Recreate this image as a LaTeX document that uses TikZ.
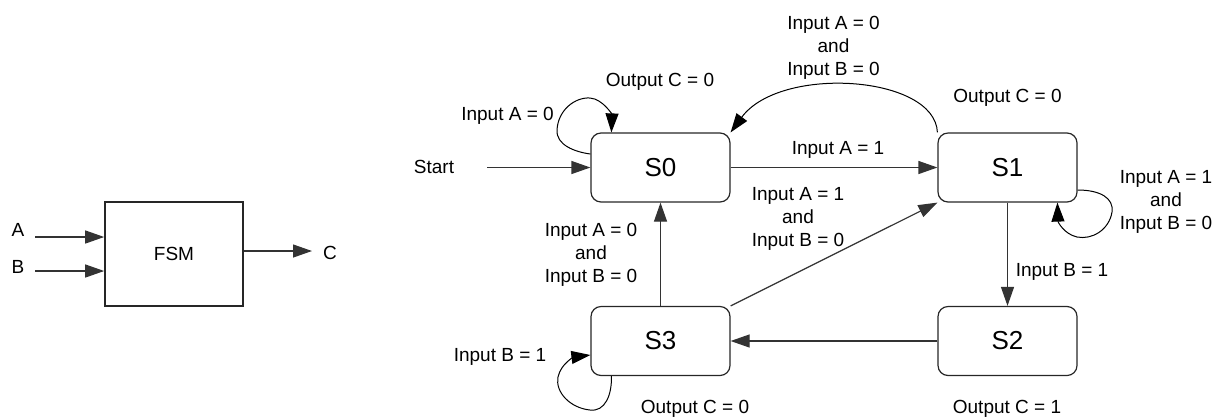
\documentclass[tikz,border=0pt]{standalone}
\usepackage{fontspec}
\setmainfont{Liberation Sans}
\usetikzlibrary{arrows.meta,calc}
\begin{document}
\begin{tikzpicture}[x=0.5pt,y=-0.5pt,
  state/.style={draw=black!85, line width=0.6pt, rounded corners=5pt, minimum width=69.5pt, minimum height=34.5pt, inner sep=0pt, font=\fontsize{13}{15}\selectfont},
  blockbox/.style={draw=black!85, line width=0.8pt, minimum width=69pt, minimum height=52pt, inner sep=0pt, font=\fontsize{9.5}{11.5}\selectfont},
  lbl/.style={font=\fontsize{9.5}{11.5}\selectfont, align=center, inner sep=0pt},
  tip/.style={-{Triangle[length=9.5pt,width=6.5pt]}},
  conn/.style={draw=black!80, line width=0.6pt, tip},
  curv/.style={draw=black, line width=0.5pt, tip}]

\useasboundingbox (0,0) rectangle (1219,419);

% ---- FSM block ----
\node[blockbox] (fsm) at (174,254) {FSM};
\node[lbl] (la) at (18,230) {A};
\node[lbl] (lb) at (18,267) {B};
\node[lbl] (lc) at (330,253) {C};
\coordinate (ain) at (35,237);
\coordinate (bin) at (35,271);
\coordinate (cout) at (312,251);
\draw[conn] (ain) -- (fsm.west |- ain);
\draw[conn] (bin) -- (fsm.west |- bin);
\draw[conn] (fsm.east |- cout) -- (cout);

% ---- states ----
\node[state] (s0) at (660.5,167.5) {S0};
\node[state] (s1) at (1007.5,167.5) {S1};
\node[state] (s2) at (1007.5,341) {S2};
\node[state] (s3) at (660.5,341) {S3};

% ---- start ----
\node[lbl] (start) at (434,167) {Start};
\coordinate (st) at (487,167.5);
\draw[conn] (st) -- (s0.west);

% ---- transitions ----
\draw[conn] (s0.east) -- (s1.west);
\draw[conn] (s3.north) -- (s0.south);
\draw[conn] (s3.north east) -- (s1.south west);
\draw[conn] (s1.south) -- (s2.north);
\draw[conn] (s2.west) -- (s3.east);

\draw[curv] (s1.north west) .. controls (935,75) and (780,65) .. (s0.north east);

% S0 self loop
\draw[curv] ($(s0.west)+(0,-13.5)$) .. controls (575,152) and (556,145) .. (557,130)
  .. controls (558,110) and (575,97) .. (590,98)
  .. controls (603,99) and (612,115) .. ($(s0.north west)+(21,0)$);

% S1 self loop
\draw[curv] ($(s1.east)+(0,22.5)$) .. controls (1100,190) and (1114,198) .. (1112,212)
  .. controls (1109,230) and (1092,240) .. (1077,237)
  .. controls (1064,234) and (1058,222) .. ($(s1.south west)+(120,0)$);

% S3 self loop
\draw[curv] ($(s3.south west)+(21,0)$) .. controls (612,395) and (605,412) .. (590,410)
  .. controls (570,408) and (555,392) .. (558,377)
  .. controls (561,363) and (575,357) .. ($(s3.west)+(0,14)$);

% ---- labels ----
\node[lbl] (o0) at (660,82) {Output C = 0};
\node[lbl] (i00) at (507.5,116) {Input A = 0};
\node[lbl] (i10) at (833.5,47.5) {Input A = 0\\and\\Input B = 0};
\node[lbl] (o1) at (1007.5,98) {Output C = 0};
\node[lbl] (i01) at (838,150) {Input A = 1};
\node[lbl] (i31) at (798,219) {Input A = 1\\and\\Input B = 0};
\node[lbl] (i30) at (591,254.5) {Input A = 0\\and\\Input B = 0};
\node[lbl] (i11) at (1166,202) {Input A = 1\\and\\Input B = 0};
\node[lbl] (i12) at (1062,272) {Input B = 1};
\node[lbl] (i33) at (500,357) {Input B = 1};
\node[lbl] (o3) at (695,409) {Output C = 0};
\node[lbl] (o2) at (1007,409) {Output C = 1};
\end{tikzpicture}
\end{document}
